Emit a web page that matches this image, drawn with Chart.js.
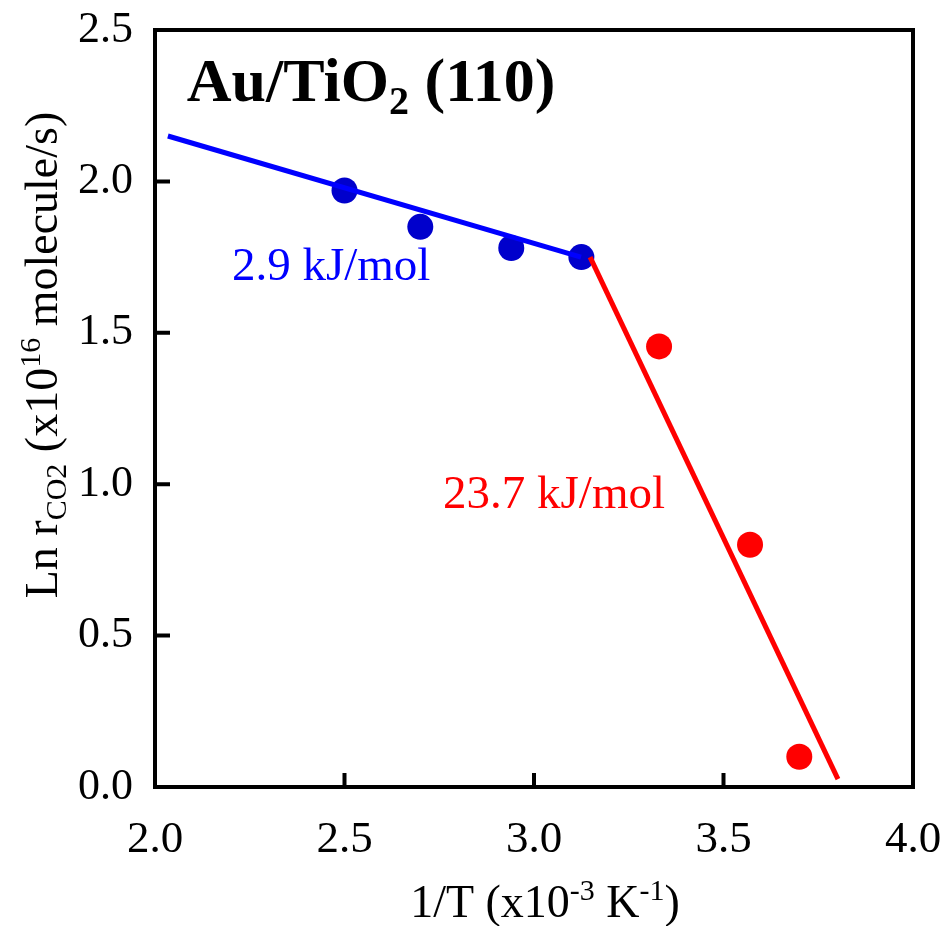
<!DOCTYPE html>
<html lang="en">

<head>
    <meta charset="UTF-8">
    <title>Au/TiO2 (110) Arrhenius</title>
    <script src="https://cdn.jsdelivr.net/npm/chart.js"></script>
    <style>
        body { margin: 0; background: #fff; }
        .chart-box { width: 945px; height: 926px; }
    </style>
</head>

<body>
    <div class="chart-box">
        <canvas id="grafico"></canvas>
    </div>

<script>
    // 1/T (x10^-3 K^-1) and Ln r for the two regimes
    const invTAlto = [2.50, 2.70, 2.94, 3.125];
    const lnRAlto = [1.97, 1.85, 1.78, 1.75];
    const invTBaixo = [3.33, 3.57, 3.70];
    const lnRBaixo = [1.455, 0.80, 0.10];

    // fitted lines (start / end)
    const ajusteAltoX = [2.034, 3.124];
    const ajusteAltoY = [2.150, 1.750];
    const ajusteBaixoX = [3.148, 3.802];
    const ajusteBaixoY = [1.750, 0.026];

    const ticksX = [2.0, 2.5, 3.0, 3.5, 4.0];
    const ticksY = [0.0, 0.5, 1.0, 1.5, 2.0, 2.5];

    const FONTE = "'Liberation Serif', 'Times New Roman', serif";

    function pares(xs, ys) {
        return xs.map(function (x, i) { return { x: x, y: ys[i] }; });
    }

    // draws a run of text pieces with different sizes / offsets (sub- and superscripts)
    function textoRico(ctx, pecas, x, y, alinhar, cor) {
        let total = 0;
        pecas.forEach(function (p) {
            ctx.font = (p.negrito ? 'bold ' : '') + p.tam + 'px ' + FONTE;
            p.larg = ctx.measureText(p.t).width;
            total += p.larg;
        });
        let cx = alinhar === 'center' ? x - total / 2 : x;
        ctx.fillStyle = cor;
        ctx.textBaseline = 'alphabetic';
        ctx.textAlign = 'left';
        pecas.forEach(function (p) {
            ctx.font = (p.negrito ? 'bold ' : '') + p.tam + 'px ' + FONTE;
            ctx.fillText(p.t, cx, y + (p.dy || 0));
            cx += p.larg;
        });
    }

    const moldura = {
        id: 'moldura',
        afterDraw: function (chart) {
            const ctx = chart.ctx;
            const area = chart.chartArea;
            const sx = chart.scales.x;
            const sy = chart.scales.y;
            ctx.save();

            // box and inward ticks
            ctx.strokeStyle = '#000';
            ctx.lineWidth = 4;
            ctx.strokeRect(area.left, area.top, area.right - area.left, area.bottom - area.top);
            ctx.beginPath();
            ticksX.forEach(function (v) {
                const px = sx.getPixelForValue(v);
                ctx.moveTo(px, area.bottom);
                ctx.lineTo(px, area.bottom - 14);
            });
            ticksY.forEach(function (v) {
                const py = sy.getPixelForValue(v);
                ctx.moveTo(area.left, py);
                ctx.lineTo(area.left + 15, py);
            });
            ctx.stroke();

            // sample name
            textoRico(ctx, [
                { t: 'Au/TiO', tam: 62, negrito: true },
                { t: '2', tam: 40, negrito: true, dy: 13 },
                { t: ' (110)', tam: 62, negrito: true }
            ], sx.getPixelForValue(2.084), sy.getPixelForValue(2.266), 'left', '#000');

            // activation energies
            textoRico(ctx, [{ t: '2.9 kJ/mol', tam: 47 }],
                sx.getPixelForValue(2.203), sy.getPixelForValue(1.674), 'left', '#0000FF');
            textoRico(ctx, [{ t: '23.7 kJ/mol', tam: 47 }],
                sx.getPixelForValue(2.760), sy.getPixelForValue(0.921), 'left', '#FF0000');

            // axis titles
            textoRico(ctx, [
                { t: '1/T (x10', tam: 46 },
                { t: '-3', tam: 30, dy: -17 },
                { t: ' K', tam: 46 },
                { t: '-1', tam: 30, dy: -17 },
                { t: ')', tam: 46 }
            ], 545, 917, 'center', '#000');

            ctx.translate(57, 355);
            ctx.rotate(-Math.PI / 2);
            textoRico(ctx, [
                { t: 'Ln r', tam: 46 },
                { t: 'CO2', tam: 30, dy: 9 },
                { t: ' (x10', tam: 46 },
                { t: '16', tam: 30, dy: -17 },
                { t: ' molecule/s)', tam: 46 }
            ], 0, 0, 'center', '#000');

            ctx.restore();
        }
    };

    const config = {
        type: 'scatter',
        data: {
            datasets: [
                {
                    data: pares(ajusteAltoX, ajusteAltoY),
                    showLine: true,
                    borderColor: '#0000FF',
                    borderWidth: 5,
                    pointRadius: 0,
                    order: 0
                },
                {
                    data: pares(ajusteBaixoX, ajusteBaixoY),
                    showLine: true,
                    borderColor: '#FF0000',
                    borderWidth: 5,
                    pointRadius: 0,
                    order: 0
                },
                {
                    data: pares(invTAlto, lnRAlto),
                    backgroundColor: '#0000CC',
                    borderWidth: 0,
                    pointRadius: 13,
                    order: 1
                },
                {
                    data: pares(invTBaixo, lnRBaixo),
                    backgroundColor: '#FF0000',
                    borderWidth: 0,
                    pointRadius: 13,
                    order: 1
                }
            ]
        },
        options: {
            responsive: true,
            maintainAspectRatio: false,
            animation: false,
            layout: { padding: { top: 30, right: 32, left: 0, bottom: 0 } },
            plugins: {
                legend: { display: false },
                tooltip: { enabled: false }
            },
            scales: {
                x: {
                    type: 'linear',
                    min: 2, max: 4,
                    afterFit: function (s) {
                        s.height = 139;
                        s.paddingLeft = 0;
                        s.paddingRight = 0;
                    },
                    afterBuildTicks: function (s) { s.ticks = ticksX.map(function (v) { return { value: v }; }); },
                    grid: { display: false, drawTicks: false },
                    border: { display: false },
                    ticks: {
                        color: '#000',
                        padding: 26,
                        font: { family: FONTE, size: 45 },
                        callback: function (v) { return v.toFixed(1); }
                    }
                },
                y: {
                    min: 0, max: 2.5,
                    afterFit: function (s) {
                        s.width = 155;
                        s.paddingTop = 0;
                        s.paddingBottom = 0;
                    },
                    afterBuildTicks: function (s) { s.ticks = ticksY.map(function (v) { return { value: v }; }); },
                    grid: { display: false, drawTicks: false },
                    border: { display: false },
                    ticks: {
                        color: '#000',
                        padding: 22,
                        font: { family: FONTE, size: 44 },
                        callback: function (v) { return v.toFixed(1); }
                    }
                }
            }
        },
        plugins: [moldura]
    };

    let meuGrafico = new Chart(document.getElementById('grafico'), config);
</script>
</body>

</html>
